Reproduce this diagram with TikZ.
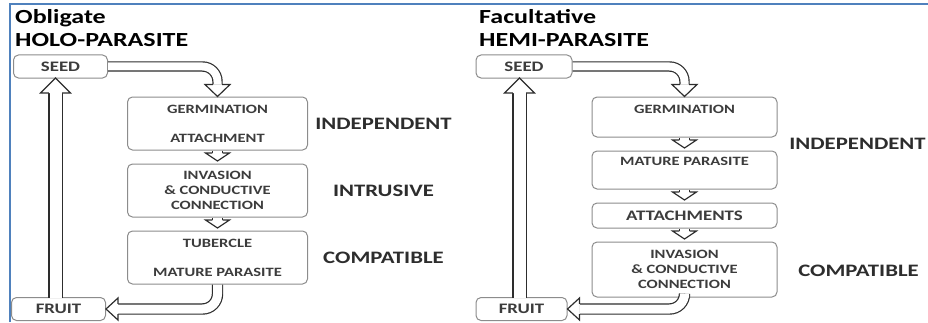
\documentclass[tikz,border=0pt]{standalone}
\usepackage{fontspec}
\setmainfont{Carlito}[FakeStretch=1.3]
\usepackage{xcolor}
\usetikzlibrary{positioning,calc}
\definecolor{ink}{RGB}{45,45,45}
\definecolor{rim}{RGB}{140,140,140}
\definecolor{boxink}{RGB}{60,60,60}
\definecolor{framebl}{RGB}{79,129,189}
\tikzset{
  cell/.style    = {rounded corners=5pt, draw=rim, line width=1pt, fill=white, text=boxink,
                    align=center, inner sep=2pt, font=\fontsize{12.7}{15}\selectfont\bfseries,
                    minimum width=180pt, minimum height=53pt},
  endbox/.style  = {cell, font=\fontsize{14.5}{17}\selectfont\bfseries,
                    minimum width=94pt, minimum height=23pt},
  heading/.style = {anchor=base west, inner sep=0pt, text=black,
                    font=\fontsize{20}{24}\selectfont\bfseries},
  phase/.style   = {text=ink, inner sep=0pt, font=\fontsize{17.5}{21}\selectfont\bfseries},
  shaft/.style   = {draw=ink, line width=1.2pt, double=white, double distance=#1},
  pics/ahead/.style n args={3}{code={
    \draw[draw=ink, line width=1.2pt, fill=white, line join=miter]
      (-#3,#1/2+0.6) -- (-#3,#2) -- (0,0) -- (-#3,-#2) -- (-#3,-#1/2-0.6);}},
}

\begin{document}
\begin{tikzpicture}[x=1pt, y=1pt]
\useasboundingbox (0,0) rectangle (928,322);
\draw[framebl, line width=1.8pt] (10,0) |- (928,318);

% Left: obligate holo-parasite
\node[heading] (tL1) at (15,298.5) {Obligate};
\node[heading] (tL2) at (15,275.5) {HOLO-PARASITE};
\node[endbox] (seedL) at (60.5,255.5) {SEED};
\node[cell] (germL) at (217.5,198.5) {GERMINATION\\[14pt]ATTACHMENT};
\node[cell, below=13pt of germL] (invL) {INVASION\\\&~CONDUCTIVE\\CONNECTION};
\node[cell, below=13pt of invL] (tubL) {TUBERCLE\\[14pt]MATURE PARASITE};
\node[endbox] (fruitL) at (58.5,13) {FRUIT};
\node[phase] (indL) at ($(germL.center)+(166,0)$) {INDEPENDENT};
\node[phase] (intL) at ($(invL.center)+(166,0)$) {INTRUSIVE};
\node[phase] (comL) at ($(tubL.center)+(166,0)$) {COMPATIBLE};

% Right: facultative hemi-parasite
\node[heading] (tR1) at (479,298.5) {Facultative};
\node[heading] (tR2) at (479,275.5) {HEMI-PARASITE};
\node[endbox, minimum width=96pt] (seedR) at (524,255.5) {SEED};
\node[cell, minimum width=185pt, minimum height=40pt] (germR) at (684.5,205) {GERMINATION\\\mbox{}};
\node[cell, minimum width=185pt, minimum height=38pt, below=13pt of germR] (matR) {MATURE PARASITE\\[2pt]\mbox{}};
\node[cell, minimum width=185pt, minimum height=25pt, font=\fontsize{14.5}{17}\selectfont\bfseries,
  below=13pt of matR] (attR) {ATTACHMENTS};
\node[cell, minimum width=185pt, minimum height=55pt, below=13pt of attR] (invR) {INVASION\\\&~CONDUCTIVE\\CONNECTION};
\node[endbox, minimum width=91pt] (fruitR) at (521.5,13) {FRUIT};
\node[phase] (indR) at ($(germR.south)!0.5!(matR.north)+(173,0)$) {INDEPENDENT};
\node[phase] (comR) at ($(invR.center)+(174,-1.5)$) {COMPATIBLE};

% life-cycle arrows, left
\draw[shaft=8, rounded corners=15pt] (seedL.east) -| ([yshift=12pt]germL.north);
\pic[rotate=-90] at (germL.north) {ahead={8}{12.5}{12}};
\draw[shaft=9, rounded corners=15pt] (tubL.south) |- ([xshift=12pt]fruitL.east);
\pic[rotate=180] at (fruitL.east) {ahead={9}{11}{12}};
\coordinate (topL) at (55.5,244);
\coordinate (botL) at (55.5,24.5);
\draw[shaft=12] (botL) -- ([yshift=-15pt]topL);
\pic[rotate=90] at (topL) {ahead={12}{15}{15}};

% life-cycle arrows, right
\draw[shaft=8, rounded corners=15pt] (seedR.east) -| ([yshift=12pt]germR.north);
\pic[rotate=-90] at (germR.north) {ahead={8}{12.5}{12}};
\draw[shaft=9, rounded corners=15pt] (invR.south) |- ([xshift=12pt]fruitR.east);
\pic[rotate=180] at (fruitR.east) {ahead={9}{11}{12}};
\coordinate (topR) at (519.5,244);
\coordinate (botR) at (519.5,24.5);
\draw[shaft=12] (botR) -- ([yshift=-15pt]topR);
\pic[rotate=90] at (topR) {ahead={12}{15}{15}};

% step arrows between boxes
\foreach \a/\b in {germL/invL, invL/tubL, germR/matR, matR/attR, attR/invR}{
  \draw[shaft=9] (\a.south) -- ($(\b.north)+(0,10.5)$);
  \pic[rotate=-90] at ($(\b.north)+(0,2.5)$) {ahead={9}{12}{8}};
}
\end{tikzpicture}
\end{document}
